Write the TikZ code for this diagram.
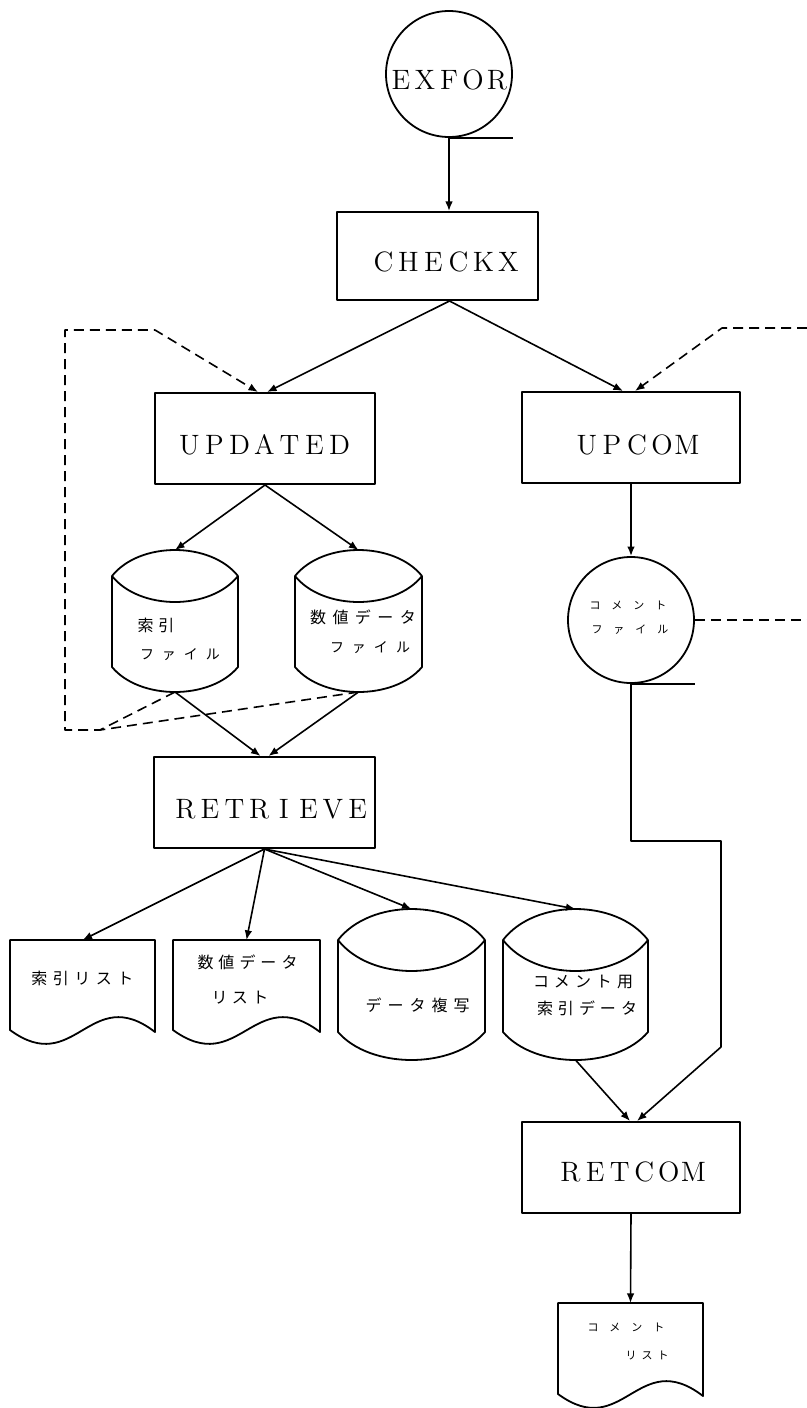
\documentclass[tikz,border=0pt]{standalone}
\usepackage{fontspec}
\newfontfamily\jp{Noto Sans CJK JP}
\usetikzlibrary{arrows.meta}
\newcommand\pitched[2]{\def\pitchw{#1}\pitchedaux#2\relax}
\def\pitchedaux#1{\ifx#1\relax\else\makebox[\pitchw][c]{#1}\expandafter\pitchedaux\fi}
% cylinder: name, L, R, y top corners, top bulge, y bottom corners, bottom bulge
\newcommand\mycyl[7]{%
  \draw[shp] (#2,#4) .. controls ({#2+0.22*(#3-#2)},{#4-1.333*#5}) and ({#3-0.22*(#3-#2)},{#4-1.333*#5}) .. (#3,#4)
    .. controls ({#3-0.22*(#3-#2)},{#4+1.333*#5}) and ({#2+0.22*(#3-#2)},{#4+1.333*#5}) .. (#2,#4)
    -- (#2,#6) .. controls ({#2+0.22*(#3-#2)},{#6+1.333*#7}) and ({#3-0.22*(#3-#2)},{#6+1.333*#7}) .. (#3,#6) -- (#3,#4);
  \coordinate (#1-top) at ({(#2+#3)/2},{#4-#5});
  \coordinate (#1-bot) at ({(#2+#3)/2},{#6+#7});
}
% document: name, L, R, top, y of lower left corner
\newcommand\mydoc[5]{%
  \draw[shp] (#2,#5) -- (#2,#4) -- (#3,#4) -- (#3,{#5+2})
    .. controls ({#2+0.55*(#3-#2)},{#5-48}) and ({#2+0.45*(#3-#2)},{#5+48}) .. cycle;
  \coordinate (#1-top) at ({(#2+#3)/2},#4);
}
\begin{document}
\begin{tikzpicture}[x=0.5pt,y=-0.5pt,line join=round,
  shp/.style={line width=0.9pt},
  box/.style={draw,rectangle,line width=1pt,inner sep=0pt},
  rnd/.style={draw,circle,line width=0.9pt,inner sep=0pt,minimum size=63pt},
  conn/.style={line width=0.8pt},
  arr/.style={conn,-{Latex[length=4.8pt,width=3.8pt]}},
  dsh/.style={conn,dash pattern=on 5pt off 3pt},
  darr/.style={dsh,-{Latex[length=4.8pt,width=3.8pt]}},
  lat/.style={inner sep=0pt,font=\fontsize{14}{14}\selectfont\addfontfeatures{FakeStretch=0.8}},
  jt/.style={inner sep=0pt,font=\jp\fontsize{8}{8}\selectfont},
  jm/.style={inner sep=0pt,font=\jp\fontsize{7}{7}\selectfont},
  js/.style={inner sep=0pt,font=\jp\fontsize{5.5}{5.5}\selectfont},
]
\fill[white] (0,0) rectangle (807,1408);
\useasboundingbox (0,0) rectangle (807,1408);

% ---- shapes ----
\node[rnd] (exfor) at (449,74) {};
\draw[shp] (exfor.south) -- ++(64,0);
\node[box,minimum width=100.5pt,minimum height=44pt] (checkx) at (437.5,256) {};
\node[box,minimum width=110pt,minimum height=45.5pt] (updated) at (265,438.5) {};
\node[box,minimum width=109pt,minimum height=45.5pt] (upcom) at (631,437.5) {};
\node[box,minimum width=110.5pt,minimum height=45.5pt] (retrieve) at (264.5,802.5) {};
\node[box,minimum width=109pt,minimum height=45.5pt] (retcom) at (631,1167.5) {};
\node[rnd] (cfile) at (631,620) {};
\draw[shp] (cfile.south) -- ++(64,0);

\mycyl{cylA}{112}{238}{576}{26}{667}{25}
\mycyl{cylB}{295}{422}{576}{26}{667}{25}
\mycyl{cylC}{338}{485}{940}{31}{1032}{28}
\mycyl{cylD}{503}{648}{940}{31}{1032}{28}
\mydoc{docA}{10}{155}{940}{1030}
\mydoc{docB}{173}{320}{940}{1030}
\mydoc{docC}{558}{703}{1303}{1394}

% ---- texts ----
\node[lat] (t-exfor) at (449,80) {\pitched{12pt}{EXFOR}};
\node[lat] (t-checkx) at (446,262) {\pitched{12.5pt}{CHECKX}};
\node[lat] (t-updated) at (264.5,445) {\pitched{12.5pt}{UPDATED}};
\node[lat] (t-upcom) at (637,445) {\pitched{12.5pt}{UPCOM}};
\node[lat] (t-retrieve) at (271.5,809) {\pitched{12.3pt}{RETRIEVE}};
\node[lat] (t-retcom) at (632,1172) {\pitched{12.3pt}{RETCOM}};

\node[jt] (t-a1) at (156,625) {\pitched{10.5pt}{索引}};
\node[jm] (t-a2) at (180,655) {\pitched{11pt}{ファイル}};
\node[jt] (t-b1) at (363,617) {\pitched{11.25pt}{数値データ}};
\node[jm] (t-b2) at (370,648) {\pitched{11pt}{ファイル}};
\node[jt] (t-da) at (82.5,978) {\pitched{10.75pt}{索引リスト}};
\node[jt] (t-db1) at (247.5,962) {\pitched{10.5pt}{数値データ}};
\node[jt] (t-db2) at (240,998) {\pitched{10.25pt}{リスト}};
\node[jt] (t-c) at (417.5,1005) {\pitched{11pt}{データ複写}};
\node[jt] (t-d1) at (583,982) {\pitched{10.5pt}{コメント用}};
\node[jt] (t-d2) at (587,1008) {\pitched{10.5pt}{索引データ}};
\node[js] (t-f1) at (628,605) {\pitched{11pt}{コメント}};
\node[js] (t-f2) at (630,630) {\pitched{11pt}{ファイル}};
\node[js] (t-g1) at (626,1327) {\pitched{11pt}{コメント}};
\node[js] (t-g2) at (647,1355) {\pitched{8pt}{リスト}};

% ---- solid connectors ----
\draw[arr] (exfor.south) -- (exfor.south |- checkx.north);
\draw[arr] ([xshift=6pt]checkx.south) -- ([xshift=1pt]updated.north);
\draw[arr] ([xshift=6pt]checkx.south) -- ([xshift=-4pt]upcom.north);
\draw[arr] (updated.south) -- (cylA-top);
\draw[arr] (updated.south) -- (cylB-top);
\draw[arr] (cylA-bot) -- ([xshift=-2pt]retrieve.north);
\draw[arr] (cylB-bot) -- ([xshift=2pt]retrieve.north);
\draw[arr] (retrieve.south) -- (docA-top);
\draw[arr] (retrieve.south) -- (docB-top);
\draw[arr] (retrieve.south) -- (cylC-top);
\draw[arr] (retrieve.south) -- (cylD-top);
\draw[arr] (upcom.south) -- (cfile.north);
\coordinate (rj1) at (721,841);
\coordinate (rj2) at (721,1047);
\draw[arr] (cfile.south) |- (rj1) -- (rj2) -- ([xshift=3pt]retcom.north);
\draw[arr] (cylD-bot) -- ([xshift=-0.5pt]retcom.north);
\draw[arr] (retcom.south) -- (docC-top);

% ---- dashed connectors ----
\coordinate (fj) at (100,730);
\coordinate (fl1) at (65,730);
\coordinate (fl2) at (65,330);
\coordinate (fl3) at (155,330);
\draw[dsh] (cylB-bot) -- (fj);
\draw[darr] (cylA-bot) -- (fj) -- (fl1) -- (fl2) -- (fl3) -- ([xshift=-3.5pt]updated.north);
\coordinate (re1) at (807,328);
\coordinate (re2) at (722,328);
\draw[darr] (re1) -- (re2) -- ([xshift=2pt]upcom.north);
\coordinate (re3) at (807,620);
\draw[dsh] (cfile.east) -- (re3);
\end{tikzpicture}
\end{document}
